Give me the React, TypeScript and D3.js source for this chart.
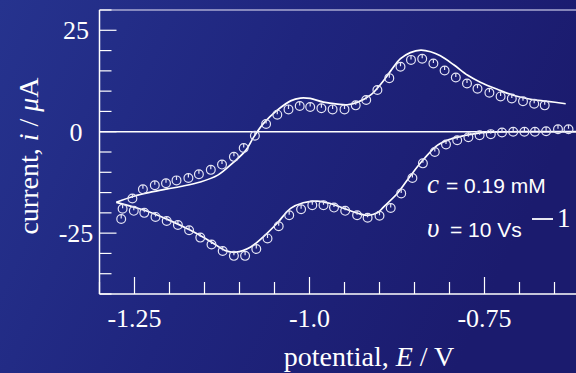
import React from 'react';
import * as d3 from 'd3';

// simulated (solid) curve, forward scan: [E / V, i / µA]
const simForward: [number, number][] = [
  [-1.276, -17.4], [-1.251, -15.9], [-1.227, -14.9], [-1.203, -14.1], [-1.184, -13.5],
  [-1.156, -12.4], [-1.131, -10.7], [-1.109, -7.6], [-1.091, -4.6], [-1.080, -1.4],
  [-1.066, 2.0], [-1.046, 5.3], [-1.027, 7.6], [-1.013, 8.3], [-0.999, 8.2],
  [-0.980, 7.3], [-0.960, 6.8], [-0.946, 6.65], [-0.931, 7.3], [-0.913, 9.0],
  [-0.896, 12.2], [-0.884, 15.0], [-0.870, 18.0], [-0.856, 19.5], [-0.841, 20.1],
  [-0.827, 19.7], [-0.813, 18.7], [-0.794, 16.5], [-0.774, 13.9], [-0.756, 12.2],
  [-0.731, 10.4], [-0.709, 9.0], [-0.684, 8.0], [-0.660, 7.5], [-0.634, 6.9],
];

// simulated (solid) curve, reverse scan
const simReverse: [number, number][] = [
  [-0.600, 0], [-0.700, 0], [-0.731, -0.05], [-0.756, -0.3], [-0.780, -1.0],
  [-0.799, -1.85], [-0.817, -3.3], [-0.837, -6.8], [-0.856, -10.9], [-0.874, -15.1],
  [-0.894, -18.5], [-0.903, -20.0], [-0.917, -20.6], [-0.931, -20.1], [-0.951, -18.9],
  [-0.970, -17.7], [-0.989, -17.1], [-1.009, -17.5], [-1.027, -18.9], [-1.046, -22.5],
  [-1.066, -25.9], [-1.084, -28.4], [-1.105, -29.7], [-1.120, -29.3], [-1.141, -27.1],
  [-1.170, -24.3], [-1.203, -21.6], [-1.237, -19.3], [-1.276, -17.4],
];

// experimental points (circles), forward scan
const expForward: [number, number][] = [
  [-1.253, -16.45], [-1.238, -14.2], [-1.221, -13.2], [-1.205, -12.7], [-1.190, -12.0],
  [-1.173, -11.4], [-1.158, -10.5], [-1.141, -9.4], [-1.125, -8.1], [-1.108, -6.2],
  [-1.094, -4.0], [-1.078, -1.0], [-1.062, 1.9], [-1.046, 4.2], [-1.030, 5.5],
  [-1.014, 6.35], [-0.999, 6.1], [-0.983, 5.8], [-0.967, 5.5], [-0.950, 5.5],
  [-0.934, 6.5], [-0.919, 7.8], [-0.903, 10.3], [-0.886, 13.2], [-0.870, 16.0],
  [-0.855, 17.7], [-0.839, 18.0], [-0.823, 16.8], [-0.807, 15.1], [-0.791, 13.35],
  [-0.775, 11.9], [-0.760, 10.6], [-0.743, 9.6], [-0.727, 8.7], [-0.711, 8.2],
  [-0.695, 7.5], [-0.679, 6.9], [-0.664, 6.5],
];

// experimental points (circles), reverse scan
const expReverse: [number, number][] = [
  [-0.630, 0.6], [-0.645, 0.6], [-0.662, 0.1], [-0.678, 0], [-0.693, 0],
  [-0.709, 0], [-0.725, -0.2], [-0.741, -0.6], [-0.757, -0.85], [-0.773, -1.35],
  [-0.789, -2.1], [-0.805, -3.15], [-0.821, -5.0], [-0.838, -7.8], [-0.853, -11.4],
  [-0.869, -15.2], [-0.884, -18.8], [-0.900, -20.7], [-0.917, -21.2], [-0.932, -20.6],
  [-0.949, -19.5], [-0.965, -18.7], [-0.980, -18.1], [-0.996, -18.1], [-1.012, -19.1],
  [-1.029, -20.6], [-1.044, -23.3], [-1.060, -26.3], [-1.076, -28.9], [-1.092, -30.6],
  [-1.108, -30.6], [-1.124, -29.4], [-1.140, -27.8], [-1.156, -26.1], [-1.172, -24.3],
  [-1.188, -23.0], [-1.204, -22.0], [-1.220, -21.0], [-1.236, -20.0], [-1.251, -19.5],
  [-1.267, -19.0], [-1.269, -21.5],
];

const xTickValues = d3.range(-1.3, -0.599, 0.05).map((v) => +v.toFixed(2));
const xMajorTicks = [-1.25, -1.0, -0.75];
const xTickLabels = ['-1.25', '-1.0', '-0.75'];
const yTickValues = d3.range(-40, 30.1, 5);
const yMajorTicks = [-25, 0, 25];
const yTickLabels = ['-25', '0', '25'];

const W = 576;
const H = 373;

export default function App() {
  const x = d3.scaleLinear().domain([-1.3, -0.6]).range([99.5, 589.5]);
  const y = d3.scaleLinear().domain([-40, 30]).range([294, 10]);
  const line = d3
    .line<[number, number]>()
    .x((d) => x(d[0]))
    .y((d) => y(d[1]))
    .curve(d3.curveCatmullRom.alpha(0.5));

  const serif = '"Liberation Serif", "Times New Roman", serif';
  const sans = '"Liberation Sans", Arial, sans-serif';
  const left = x(-1.3);
  const bottom = y(-40);
  const top = y(30);

  const marker = (d: [number, number], k: string) => (
    <g key={k} transform={`translate(${x(d[0])},${y(d[1])})`}>
      <circle r={4.4} fill="none" stroke="#e4e4f4" strokeWidth={1.2} />
      <line x1={0} y1={-4.4} x2={0} y2={-0.5} stroke="#e4e4f4" strokeWidth={1.2} />
    </g>
  );

  return (
    <svg
      width={W}
      height={H}
      style={{ position: 'fixed', left: 0, top: 0, display: 'block' }}
    >
      <defs>
        <linearGradient id="bg" x1="0" y1="0" x2="1" y2="0.3">
          <stop offset="0" stopColor="#26338e" />
          <stop offset="0.5" stopColor="#1f257e" />
          <stop offset="1" stopColor="#1b1b6e" />
        </linearGradient>
        <clipPath id="plot">
          <rect x={left} y={top} width={W - left} height={bottom - top} />
        </clipPath>
      </defs>
      <rect x={0} y={0} width={W} height={H} fill="url(#bg)" />

      {/* frame */}
      <line x1={left} x2={W} y1={top} y2={top} stroke="#a9a9d2" strokeWidth={1.5} />
      <line x1={left} x2={left} y1={top} y2={bottom} stroke="#ffffff" strokeWidth={1.5} />
      <line x1={left} x2={W} y1={bottom} y2={bottom} stroke="#ffffff" strokeWidth={1.5} />

      {/* y ticks */}
      {yTickValues.map((v) => (
        <line
          key={`yt${v}`}
          x1={left}
          x2={left + (yMajorTicks.includes(v) ? 17 : 12)}
          y1={y(v)}
          y2={y(v)}
          stroke="#ffffff"
          strokeWidth={1.2}
        />
      ))}
      {/* x ticks */}
      {xTickValues.map((v) => (
        <line
          key={`xt${v}`}
          x1={x(v)}
          x2={x(v)}
          y1={bottom}
          y2={bottom - (xMajorTicks.some((m) => Math.abs(m - v) < 1e-6) ? 17 : 12)}
          stroke="#ffffff"
          strokeWidth={1.2}
        />
      ))}

      {/* zero line */}
      <line x1={left} x2={W} y1={y(0)} y2={y(0)} stroke="#ffffff" strokeWidth={1.5} />

      <g clipPath="url(#plot)">
        <path d={line(simForward) || ''} fill="none" stroke="#ffffff" strokeWidth={1.7} />
        <path d={line(simReverse) || ''} fill="none" stroke="#ffffff" strokeWidth={1.7} />
        {expForward.map((d, i) => marker(d, `f${i}`))}
        {expReverse.map((d, i) => marker(d, `r${i}`))}
      </g>

      {/* tick labels */}
      {yMajorTicks.map((v, i) => (
        <text
          key={`yl${v}`}
          x={76}
          y={y(v) + 9}
          textAnchor="middle"
          fill="#ffffff"
          fontFamily={serif}
          fontSize={26}
        >
          {yTickLabels[i]}
        </text>
      ))}
      {xMajorTicks.map((v, i) => (
        <text
          key={`xl${v}`}
          x={x(v)}
          y={327}
          textAnchor="middle"
          fill="#ffffff"
          fontFamily={serif}
          fontSize={26}
        >
          {xTickLabels[i]}
        </text>
      ))}

      {/* axis titles */}
      <text x={369} y={366} textAnchor="middle" fill="#ffffff" fontFamily={serif} fontSize={28}>
        potential, <tspan fontStyle="italic">E</tspan> / V
      </text>
      <text
        transform="translate(38,156) rotate(-90)"
        textAnchor="middle"
        fill="#ffffff"
        fontFamily={serif}
        fontSize={28}
      >
        current, <tspan fontStyle="italic">i</tspan> / <tspan fontStyle="italic">μ</tspan>A
      </text>

      {/* annotations */}
      <text x={427} y={193} fill="#ffffff" fontFamily={serif} fontStyle="italic" fontSize={27}>
        c
      </text>
      <text x={446} y={193} fill="#ffffff" fontFamily={sans} fontSize={21}>
        = 0.19 mM
      </text>
      <text x={427} y={237} fill="#ffffff" fontFamily={serif} fontStyle="italic" fontSize={27}>
        υ
      </text>
      <text x={450} y={237} fill="#ffffff" fontFamily={sans} fontSize={21}>
        = 10 Vs
      </text>
      <line x1={532} x2={553} y1={219} y2={219} stroke="#ffffff" strokeWidth={1.8} />
      <text x={557} y={227} fill="#ffffff" fontFamily={serif} fontSize={27}>
        1
      </text>
    </svg>
  );
}
